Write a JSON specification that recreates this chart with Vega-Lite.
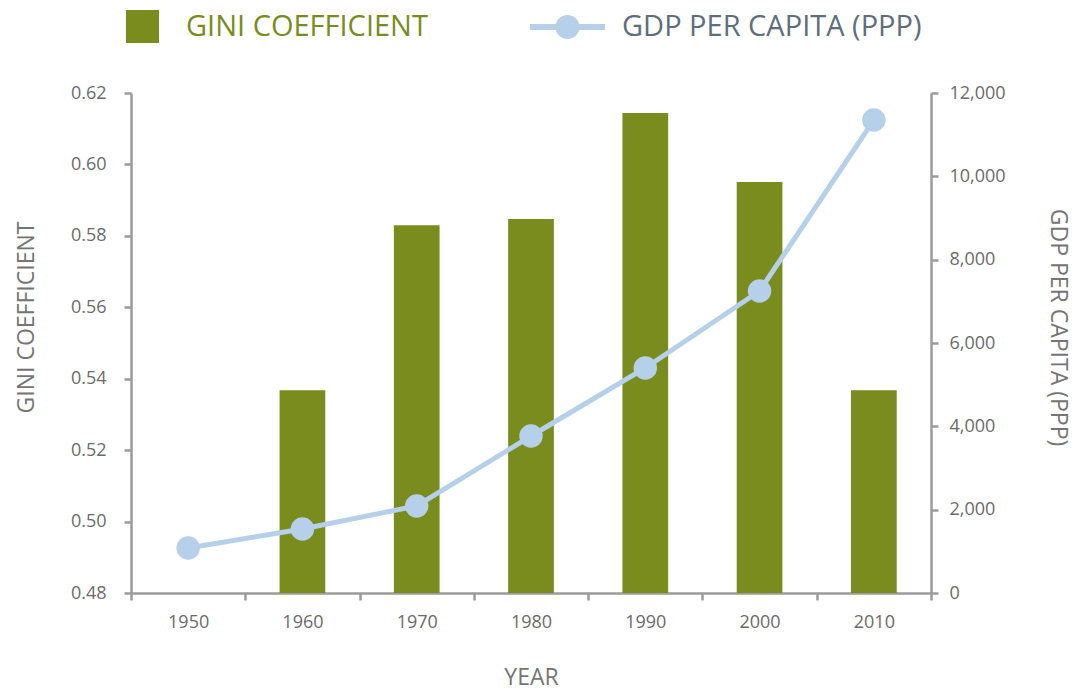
{
  "$schema": "https://vega.github.io/schema/vega-lite/v6.json",
  "autosize": "none",
  "width": 800,
  "height": 500,
  "padding": {"left": 131, "top": 93, "right": 144, "bottom": 100},
  "background": "white",
  "config": {
    "view": {"stroke": null},
    "font": "Open Sans",
    "axis": {
      "domainColor": "#9b9b9b",
      "domainWidth": 2.5,
      "tickColor": "#9b9b9b",
      "tickWidth": 2.5,
      "tickSize": 7,
      "labelColor": "#6b6b6b",
      "labelFontSize": 18,
      "labelFont": "Open Sans",
      "titleColor": "#757575",
      "titleFont": "Open Sans",
      "titleFontSize": 23,
      "titleFontWeight": "normal",
      "grid": false
    },
    "legend": {"padding": 0}
  },
  "data": {
    "values": [
      {"year": "1950", "gini": null, "gdp": 1080},
      {"year": "1960", "gini": 0.5368, "gdp": 1536},
      {"year": "1970", "gini": 0.583, "gdp": 2088},
      {"year": "1980", "gini": 0.5847, "gdp": 3768},
      {"year": "1990", "gini": 0.6144, "gdp": 5400},
      {"year": "2000", "gini": 0.5951, "gdp": 7248},
      {"year": "2010", "gini": 0.5368, "gdp": 11352}
    ]
  },
  "encoding": {
    "x": {
      "field": "year",
      "type": "ordinal",
      "scale": {"paddingInner": 0, "paddingOuter": 0},
      "axis": {
        "title": "YEAR",
        "labelAngle": 0,
        "tickBand": "extent",
        "labelPadding": 13,
        "titlePadding": 35
      }
    }
  },
  "layer": [
    {
      "mark": {"type": "bar", "width": {"band": 0.4}, "color": "#7a8c1e"},
      "encoding": {
        "y": {
          "field": "gini",
          "type": "quantitative",
          "scale": {"domain": [0.48, 0.62], "nice": false, "zero": false},
          "axis": {
            "title": "GINI COEFFICIENT",
            "values": [0.48, 0.5, 0.52, 0.54, 0.56, 0.58, 0.6, 0.62],
            "format": ".2f",
            "labelPadding": 18,
            "titlePadding": 32,
            "titleY": 224
          }
        },
        "y2": {"datum": 0.48},
        "fill": {
          "datum": "GINI COEFFICIENT",
          "scale": {"range": ["#7a8c1e"]},
          "legend": {
            "title": null,
            "orient": "none",
            "legendX": -5,
            "legendY": -83,
            "symbolType": "square",
            "symbolSize": 1089,
            "symbolStrokeWidth": 0,
            "labelFont": "Open Sans",
            "labelFontSize": 29,
            "labelColor": "#7a8c1e",
            "labelOffset": 27,
            "labelLimit": 400
          }
        }
      }
    },
    {
      "mark": {
        "type": "line",
        "color": "#b5d0e8",
        "strokeWidth": 5,
        "point": {"filled": true, "size": 460, "color": "#b5d0e8", "opacity": 1}
      },
      "encoding": {
        "y": {
          "field": "gdp",
          "type": "quantitative",
          "scale": {"domain": [0, 12000], "nice": false},
          "axis": {
            "orient": "right",
            "title": "GDP PER CAPITA (PPP)",
            "values": [0, 2000, 4000, 6000, 8000, 10000, 12000],
            "format": ",.0f",
            "labelPadding": 11,
            "titlePadding": 40,
            "titleY": 234
          }
        },
        "stroke": {
          "datum": "GDP PER CAPITA (PPP)",
          "scale": {"range": ["#b5d0e8"]},
          "legend": {
            "title": null,
            "orient": "none",
            "legendX": 399,
            "legendY": -103.5,
            "symbolType": "M-1,-0.08L1,-0.08L1,0.08L-1,0.08Z M-0.32,0 A0.32,0.32 0 1,1 0.32,0 A0.32,0.32 0 1,1 -0.32,0Z",
            "symbolSize": 5625,
            "symbolFillColor": "#b5d0e8",
            "symbolStrokeWidth": 0,
            "labelFont": "Open Sans",
            "labelFontSize": 29,
            "labelColor": "#5f6e7b",
            "labelOffset": 17,
            "labelLimit": 400,
            "encode": {
              "symbols": {
                "update": {
                  "fill": {"value": "#b5d0e8"},
                  "fillOpacity": {"value": 1},
                  "strokeWidth": {"value": 0}
                }
              }
            }
          }
        }
      }
    }
  ],
  "resolve": {"scale": {"y": "independent"}}
}
